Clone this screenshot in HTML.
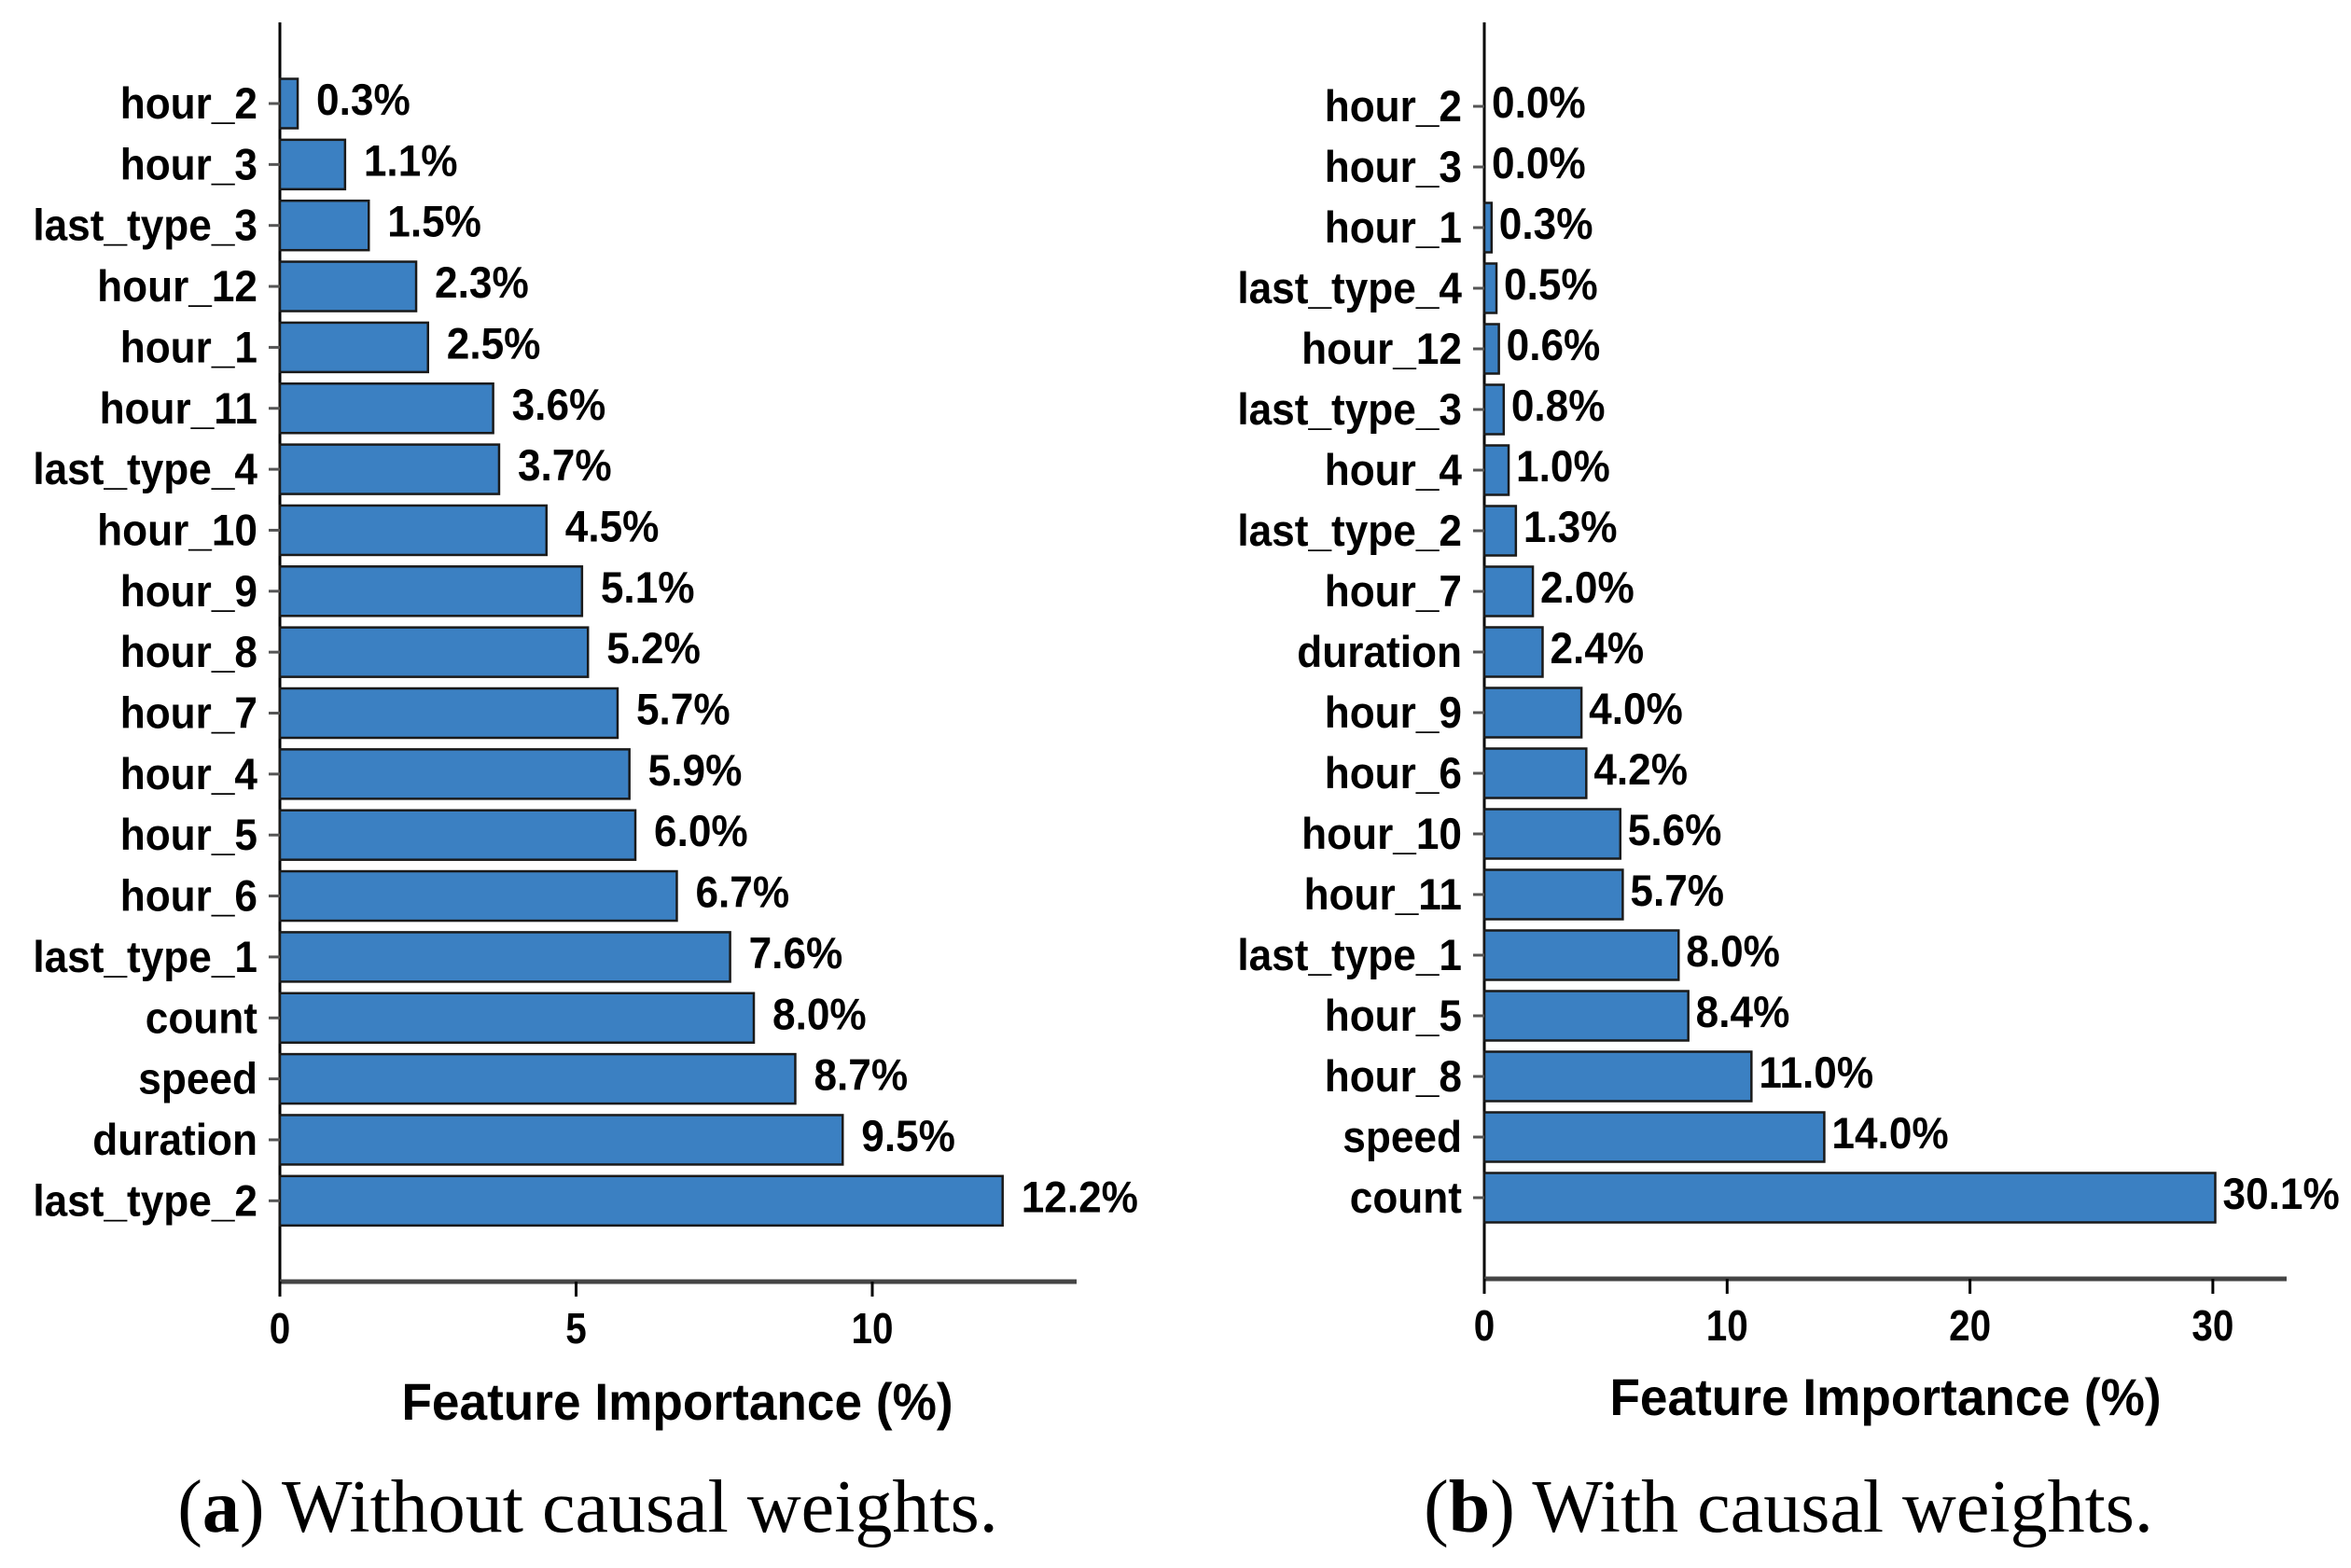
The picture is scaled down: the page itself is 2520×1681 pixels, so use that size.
<!DOCTYPE html>
<html><head><meta charset="utf-8"><style>
html,body{margin:0;padding:0;background:#fff;}
svg{display:block;}
text{font-family:"Liberation Sans",Arial,sans-serif;}
</style></head><body>
<svg id="fig" width="2520" height="1681" viewBox="0 0 2520 1681">
<g id="panelA"></g>
<g id="panelB"></g>
<text x="630" y="1642" font-size="80" text-anchor="middle" style="font-family:'Liberation Serif',serif">(<tspan font-weight="bold">a</tspan>) Without causal weights.</text>
<text x="1917" y="1642" font-size="80" text-anchor="middle" style="font-family:'Liberation Serif',serif">(<tspan font-weight="bold">b</tspan>) With causal weights.</text>
</svg>
<script>
const catsA = ["hour_2","hour_3","last_type_3","hour_12","hour_1","hour_11","last_type_4","hour_10","hour_9","hour_8","hour_7","hour_4","hour_5","hour_6","last_type_1","count","speed","duration","last_type_2"];
const valsA = [0.3,1.1,1.5,2.3,2.5,3.6,3.7,4.5,5.1,5.2,5.7,5.9,6.0,6.7,7.6,8.0,8.7,9.5,12.2];
const ticksA = [0,5,10];
const catsB = ["hour_2","hour_3","hour_1","last_type_4","hour_12","last_type_3","hour_4","last_type_2","hour_7","duration","hour_9","hour_6","hour_10","hour_11","last_type_1","hour_5","hour_8","speed","count"];
const valsB = [0.0,0.0,0.3,0.5,0.6,0.8,1.0,1.3,2.0,2.4,4.0,4.2,5.6,5.7,8.0,8.4,11.0,14.0,30.1];
const ticksB = [0,10,20,30];
const NS="http://www.w3.org/2000/svg";
function mk(parent,tag,attrs){const e=document.createElementNS(NS,tag);for(const k in attrs)e.setAttribute(k,attrs[k]);parent.appendChild(e);return e;}
function txt(parent,x,y,size,sx,anchor,str){
  const t=mk(parent,'text',{x:0,y:0,'font-size':size,'font-weight':'bold','text-anchor':anchor,transform:'translate('+x+','+y+') scale('+sx+',1)'});
  t.textContent=str;return t;
}
function draw(g,cats,vals,ticks,cfg){
  const xs=v=>cfg.x0+v*cfg.ppu;
  const ys=i=>cfg.yFirst+i*cfg.step;
  const yax=mk(g,'line',{x1:cfg.x0,y1:cfg.yTop,x2:cfg.x0,y2:cfg.yAxis,stroke:'#000','stroke-width':3});
  
  
  const xax=mk(g,'line',{x1:cfg.x0,y1:cfg.yAxis,x2:cfg.xEnd,y2:cfg.yAxis,stroke:'#444','stroke-width':5});
  
  
  ticks.forEach(t=>{
    const tl=mk(g,'line',{x1:xs(t),y1:cfg.yAxis,x2:xs(t),y2:cfg.yAxis+16,stroke:'#000','stroke-width':3});
    
    
    const tx=txt(g,xs(t),cfg.yAxis+66,46,0.88,'middle',String(t));
    
    
  });
  cats.forEach((c,i)=>{
    const y=ys(i);
    const w=Math.max(vals[i]*cfg.ppu,0);
    const r=mk(g,'rect',{x:cfg.x0,y:y-cfg.bh/2,width:w,height:cfg.bh,fill:'#3b80c2',stroke:'#1a1a1a','stroke-width':2.5});
    
    
    const tk=mk(g,'line',{x1:cfg.x0-12,y1:y,x2:cfg.x0,y2:y,stroke:'#555','stroke-width':3});
    
    
    const lb=txt(g,cfg.x0-24,y+16,47,0.94,'end',c);
    
    
    const vl=txt(g,xs(vals[i])+cfg.gap,y+12,47,0.94,'start',vals[i].toFixed(1)+'%');
    
    
  });
  const tt=txt(g,cfg.titleX,cfg.titleY,56,0.95,'middle','Feature Importance (%)');
  
  
}
draw(document.getElementById('panelA'),catsA,valsA,ticksA,{x0:300,ppu:63.5,xEnd:1154,yTop:24,yAxis:1374,yFirst:111,step:65.35,bh:53,gap:20,titleX:726,titleY:1522});
draw(document.getElementById('panelB'),catsB,valsB,ticksB,{x0:1591,ppu:26.03,xEnd:2451,yTop:24,yAxis:1371,yFirst:114,step:65,bh:53,gap:8,titleX:2021,titleY:1517});
</script>
</body></html>
